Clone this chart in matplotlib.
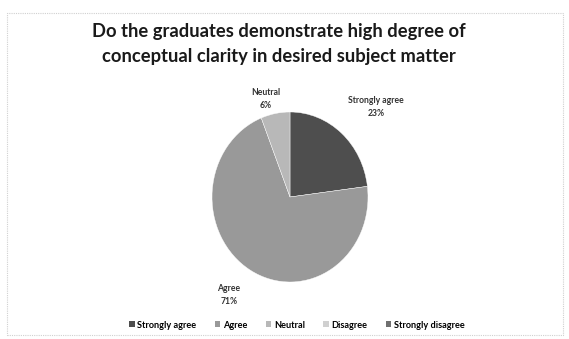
import matplotlib
matplotlib.use("Agg")
import matplotlib.pyplot as plt
from matplotlib.patches import Rectangle, Patch

# Survey responses
categories = ["Strongly agree", "Agree", "Neutral", "Disagree", "Strongly disagree"]
shares = [23, 71, 6, 0, 0]
colors = ["#4e4e4e", "#999999", "#b8b8b8", "#d0d0d0", "#707070"]
title = "Do the graduates demonstrate high degree of\nconceptual clarity in desired subject matter"

plt.rcParams["font.family"] = ["Lato", "DejaVu Sans"]

W, H = 569, 339
fig = plt.figure(figsize=(W / 100, H / 100), dpi=100)
fig.patch.set_facecolor("white")

# chart frame
fig.patches.append(Rectangle((7 / W, 4 / H), 556 / W, 322 / H, transform=fig.transFigure,
                             fill=False, edgecolor="#d0d0d0", lw=0.8, linestyle=(0, (1, 1))))

fig.text(279 / W, 1 - 44 / H, title, ha="center", va="center", fontsize=13.2,
         fontweight="bold", color="#1a1a1a", linespacing=1.55)

# pie axes centred at (290, 197) px, radii ~78 x 85 px
rx, ry = 78, 85
cx, cy = 290, 197
ax = fig.add_axes([(cx - rx) / W, 1 - (cy + ry) / H, 2 * rx / W, 2 * ry / H])
vals = [v for v in shares if v > 0]
cols = [c for v, c in zip(shares, colors) if v > 0]
labs = [c for v, c in zip(shares, categories) if v > 0]
wedges, _ = ax.pie(vals, colors=cols, startangle=90, counterclock=False, radius=1.0,
                   wedgeprops=dict(edgecolor="white", linewidth=0.3))
ax.set_xlim(-1, 1)
ax.set_ylim(-1, 1)
ax.set_aspect("auto")
ax.axis("off")

# data labels
label_pos = {"Strongly agree": (376, 107), "Agree": (229, 295), "Neutral": (266, 99)}
for lab, v in zip(labs, vals):
    x, y = label_pos[lab]
    fig.text(x / W, 1 - y / H, f"{lab}\n{v}%", ha="center", va="center", fontsize=6.2,
             fontweight="bold", color="#333333", linespacing=1.5)

handles = [Patch(facecolor=c, edgecolor="none") for c in colors]
fig.legend(handles, categories, loc="center", bbox_to_anchor=(297 / W, 1 - 325 / H),
           ncol=5, frameon=False, handlelength=0.6, handleheight=0.6,
           handletextpad=0.3, columnspacing=2.0, prop={"weight": "bold", "size": 6.6})

fig.savefig("out.png", dpi=100)
